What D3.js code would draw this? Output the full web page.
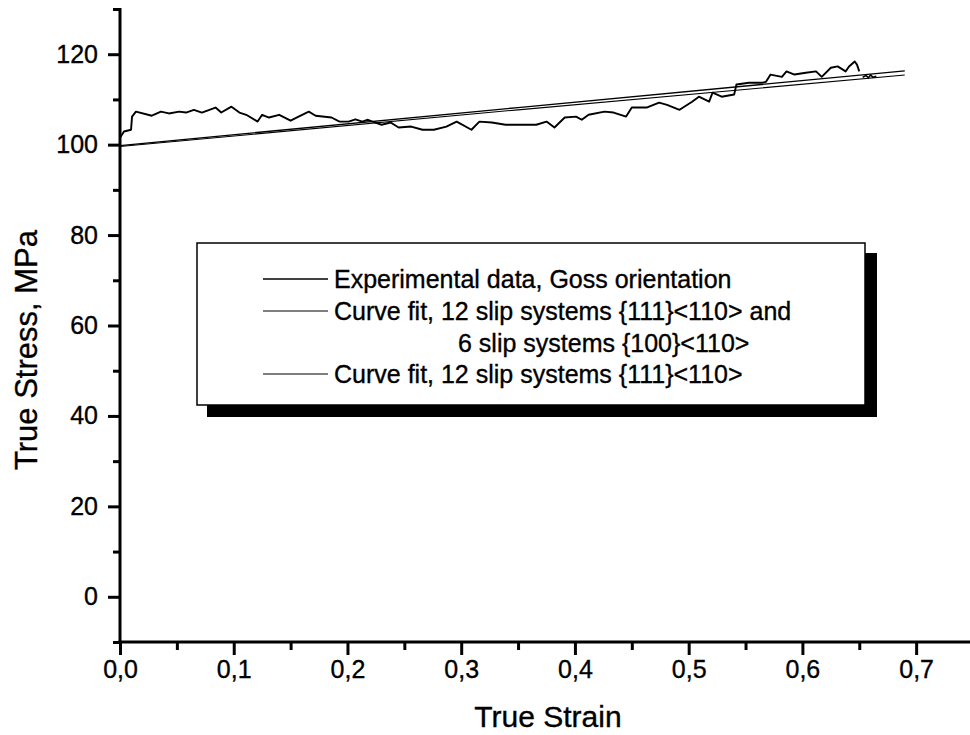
<!DOCTYPE html>
<html>
<head>
<meta charset="utf-8">
<script src="https://d3js.org/d3.v7.min.js"></script>
<style>
  body { margin: 0; background: #fff; }
  svg text { font-family: "Liberation Sans", Arial, sans-serif; fill: #000; stroke: #000; stroke-width: 0.35px; }
</style>
</head>
<body>
<svg width="970" height="735"></svg>
<script>
// experimental curve (strain, stress in MPa)
var expStrain = [0, 0.0035, 0.0097, 0.0106, 0.014, 0.028, 0.036, 0.043, 0.052, 0.058, 0.065, 0.072, 0.084, 0.089,
  0.098, 0.105, 0.111, 0.121, 0.125, 0.131, 0.140, 0.150, 0.157, 0.166, 0.172, 0.186, 0.193, 0.201, 0.207, 0.213,
  0.218, 0.222, 0.230, 0.238, 0.245, 0.256, 0.266, 0.276, 0.287, 0.296, 0.309, 0.316, 0.327, 0.339, 0.351, 0.366,
  0.375, 0.382, 0.391, 0.401, 0.406, 0.412, 0.426, 0.434, 0.445, 0.450, 0.463, 0.474, 0.481, 0.492, 0.503, 0.509,
  0.518, 0.521, 0.529, 0.540, 0.542, 0.553, 0.565, 0.568, 0.572, 0.582, 0.586, 0.593, 0.603, 0.612, 0.617, 0.625,
  0.631, 0.638, 0.641, 0.646, 0.648, 0.650];
var expStress = [101.5, 102.9, 103.3, 106.2, 107.3, 106.4, 107.3, 106.9, 107.3, 107.1, 107.7, 107.1, 108.2, 107.1,
  108.4, 107.1, 106.6, 105.1, 106.6, 106.0, 106.6, 105.3, 106.2, 107.3, 106.4, 106.0, 105.1, 105.1, 105.6, 105.1,
  105.5, 105.1, 104.4, 104.9, 103.8, 104.0, 103.3, 103.3, 104.0, 105.1, 103.3, 105.1, 104.9, 104.4, 104.4, 104.4,
  105.1, 103.8, 106.0, 106.2, 105.5, 106.6, 107.3, 107.1, 106.2, 108.2, 108.2, 109.3, 108.8, 107.7, 109.5, 110.6,
  109.5, 111.5, 110.6, 111.1, 113.3, 113.7, 113.7, 113.9, 115.5, 115.0, 116.2, 115.5, 115.9, 116.2, 115.0, 117.0,
  117.3, 116.2, 117.3, 118.4, 117.7, 116.2];
// little squiggle at the end of the test, sitting on the fit lines
var tailStrain = [0.653, 0.656, 0.658, 0.660, 0.662, 0.665];
var tailStress = [114.9, 115.3, 114.8, 115.4, 114.9, 115.1];

// the two fitted curves
var fitStrain = [0, 0.35, 0.69];
var fit1Stress = [99.8, 108.2, 116.3];   // 12 {111}<110> + 6 {100}<110>
var fit2Stress = [99.6, 107.7, 115.4];   // 12 {111}<110>

var xMajor = [0, 0.1, 0.2, 0.3, 0.4, 0.5, 0.6, 0.7];
var xMinor = [0.05, 0.15, 0.25, 0.35, 0.45, 0.55, 0.65, 0.75];
var yMajor = [0, 20, 40, 60, 80, 100, 120];
var yMinor = [-10, 10, 30, 50, 70, 90, 110, 130];

var legendLines = ["Experimental data, Goss orientation",
  "Curve fit, 12 slip systems {111}<110> and",
  "6 slip systems {100}<110>",
  "Curve fit, 12 slip systems {111}<110>"];

var svg = d3.select("svg");
var x = d3.scaleLinear().domain([0, 0.75]).range([120, 973]);
var y = d3.scaleLinear().domain([-10, 130]).range([642, 9]);
var comma = function(d){ return d3.format(".1f")(d).replace(".", ","); };

// axes (origin style: thick lines, ticks outward)
svg.append("g").attr("transform", "translate(0,642)")
  .call(d3.axisBottom(x).tickValues(xMajor).tickSize(13).tickPadding(5).tickFormat(comma));
svg.append("g").attr("transform", "translate(0,642)")
  .call(d3.axisBottom(x).tickValues(xMinor).tickSize(8).tickFormat(""));
svg.append("g").attr("transform", "translate(120,0)")
  .call(d3.axisLeft(y).tickValues(yMajor).tickSize(12).tickPadding(10));
svg.append("g").attr("transform", "translate(120,0)")
  .call(d3.axisLeft(y).tickValues(yMinor).tickSize(7).tickFormat(""));

svg.selectAll(".domain").remove();
svg.selectAll(".tick line").attr("stroke", "#000").attr("stroke-width", 3);
svg.selectAll(".tick text").style("font-size", "25px");

svg.append("line").attr("x1", 120).attr("x2", 120).attr("y1", 8).attr("y2", 643.5)
  .attr("stroke", "#000").attr("stroke-width", 3);
svg.append("line").attr("x1", 118.5).attr("x2", 975).attr("y1", 642).attr("y2", 642)
  .attr("stroke", "#000").attr("stroke-width", 3);

svg.append("text").attr("x", 548).attr("y", 727).attr("text-anchor", "middle")
  .style("font-size", "30px").text("True Strain");
svg.append("text").attr("transform", "translate(37,350) rotate(-90)").attr("text-anchor", "middle")
  .style("font-size", "31px").text("True Stress, MPa");

// curves
var line = d3.line().x(function(d){ return x(d[0]); }).y(function(d){ return y(d[1]); });
svg.append("path").datum(d3.zip(fitStrain, fit1Stress)).attr("d", line)
  .attr("fill", "none").attr("stroke", "#000").attr("stroke-width", 1.3);
svg.append("path").datum(d3.zip(fitStrain, fit2Stress)).attr("d", line)
  .attr("fill", "none").attr("stroke", "#000").attr("stroke-width", 1.1);
svg.append("path").datum(d3.zip(expStrain, expStress)).attr("d", line)
  .attr("fill", "none").attr("stroke", "#000").attr("stroke-width", 1.9).attr("stroke-linejoin", "round");
svg.append("path").datum(d3.zip(tailStrain, tailStress)).attr("d", line)
  .attr("fill", "none").attr("stroke", "#000").attr("stroke-width", 1.6);

// legend with drop shadow
var lg = svg.append("g");
lg.append("rect").attr("x", 207).attr("y", 253).attr("width", 670).attr("height", 164).attr("fill", "#000");
lg.append("rect").attr("x", 197).attr("y", 243).attr("width", 668).attr("height", 162)
  .attr("fill", "#fff").attr("stroke", "#000").attr("stroke-width", 1.5);

var rowY = [279, 311, 343, 374];
var swatchW = [1.4, 1.2, 0, 1];
legendLines.forEach(function(t, i){
  if (swatchW[i] > 0) {
    lg.append("line").attr("x1", 263).attr("x2", 328).attr("y1", rowY[i]).attr("y2", rowY[i])
      .attr("stroke", "#000").attr("stroke-width", swatchW[i]);
  }
  lg.append("text").attr("x", i == 2 ? 458 : 334).attr("y", rowY[i] + 9)
    .style("font-size", "25px").text(t);
});
</script>
</body>
</html>
